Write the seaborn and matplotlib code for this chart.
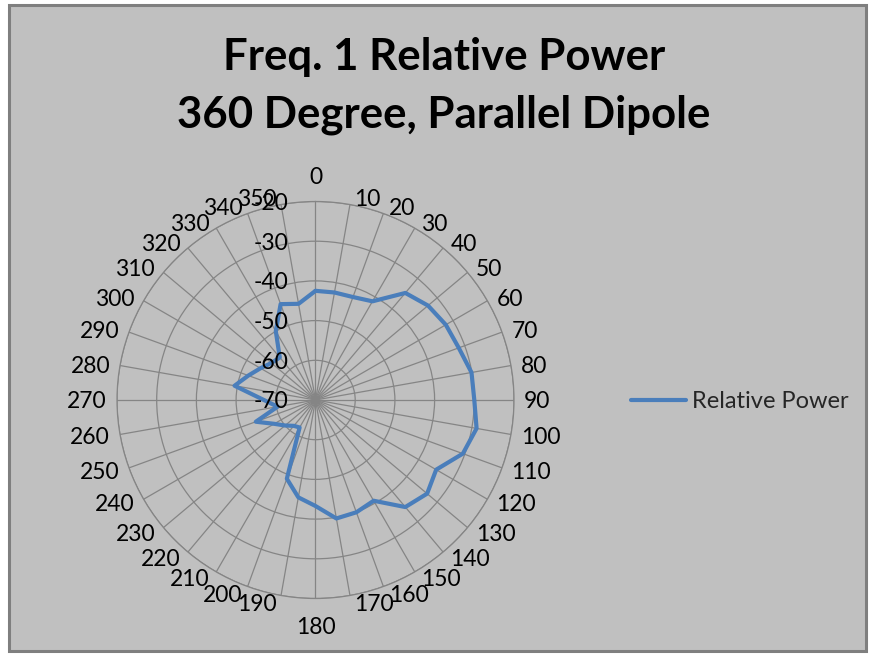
import numpy as np
import pandas as pd
import matplotlib.pyplot as plt
import matplotlib.transforms as mtransforms
from matplotlib.patches import Rectangle
import seaborn as sns

sns.set_style("white")
plt.rcParams['font.family'] = ['Lato', 'DejaVu Sans']

# data (dB relative power per azimuth)
angles = list(range(0, 360, 10))
relative_power = [-42.5, -42.5, -42.4, -41.3, -34.8, -33.0, -32.1, -31.6, -30.1, -30.0,
                  -28.8, -30.5, -34.9, -33.3, -34.8, -40.7, -39.9, -39.7, -43.3, -45.1,
                  -48.9, -62.0, -61.5, -60.0, -58.0, -54.0, -60.3, -57.0, -49.3, -52.0,
                  -54.0, -55.5, -56.0, -50.0, -44.3, -45.4]
r_ticks = [-70, -60, -50, -40, -30, -20]

title_lines = ["Freq. 1 Relative Power", "360 Degree, Parallel Dipole"]
series_name = "Relative Power"

BG = '#C0C0C0'
LINE = '#4A7EBB'
GRID = '#858585'
W, H = 870, 654
FS = 16.5

# close the loop like the Excel radar chart does (360 == 0)
df = pd.DataFrame({"angle": angles + [360],
                   "power": relative_power + relative_power[:1]})
df["theta"] = np.deg2rad(df["angle"])

fig = plt.figure(figsize=(W / 100, H / 100), dpi=100)
fig.patch.set_facecolor('white')
fig.patches.append(Rectangle((9.5 / W, 3 / H), (866 - 9.5) / W, (649 - 3) / H,
                             transform=fig.transFigure, facecolor=BG,
                             edgecolor='#7F7F7F', linewidth=2.2, zorder=-1))

ax = fig.add_axes([117 / W, 55.5 / H, 397 / W, 397 / H], projection='polar')
ax.set_facecolor('none')
ax.set_theta_zero_location('N')
ax.set_theta_direction(-1)

sns.lineplot(data=df, x="theta", y="power", sort=False, estimator=None,
             color=LINE, linewidth=3.0, ax=ax, label=series_name)
handles, labels = ax.get_legend_handles_labels()
if ax.get_legend() is not None:
    ax.get_legend().remove()
ax.set_xlabel("")
ax.set_ylabel("")

ax.set_ylim(-70, -20)
ax.set_yticks(r_ticks)
ax.set_yticklabels([])
ax.set_xticks(np.deg2rad(angles))
ax.set_xticklabels([])
ax.tick_params(axis='x', length=0)
ax.grid(True, color=GRID, linewidth=0.9)
ax.spines['polar'].set_color(GRID)
ax.spines['polar'].set_linewidth(0.9)

# angle labels placed Excel style: beside the spoke tip, not centred on it
for a in angles:
    th = np.deg2rad(a)
    s, c = np.sin(th), np.cos(th)
    if a == 0:
        ha, dx, dy = 'center', 0, 24.5
    elif a == 180:
        ha, dx, dy = 'center', 0, -29.5
    else:
        ha = 'left' if s > 0 else 'right'
        dx = np.sign(s) * (3 + 7 * abs(s))
        dy = 7 * c - 2
    tr = ax.transData + mtransforms.ScaledTranslation(dx / 100, dy / 100, fig.dpi_scale_trans)
    ax.text(th, -20, str(a), transform=tr, ha=ha, va='center', fontsize=FS,
            color='black', clip_on=False)

# radial value labels sit just left of the 0 degree spoke
offset = mtransforms.ScaledTranslation(-27 / 100, -2 / 100, fig.dpi_scale_trans)
for v in r_ticks:
    ax.text(0, v, str(v), transform=ax.transData + offset, ha='right',
            va='center', fontsize=FS, color='black')

fig.text(444 / W, 1 - 57 / H, title_lines[0], ha='center', va='center',
         fontsize=31.5, fontweight='bold', color='black')
fig.text(444 / W, 1 - 115 / H, title_lines[1], ha='center', va='center',
         fontsize=31.5, fontweight='bold', color='black')

fig.legend(handles, labels, loc='center left', bbox_to_anchor=(631 / W, 1 - 402 / H),
           frameon=False, fontsize=17, handlelength=2.33, handletextpad=0.25,
           borderpad=0, borderaxespad=0)

fig.savefig("out.png", dpi=100, facecolor='white')
